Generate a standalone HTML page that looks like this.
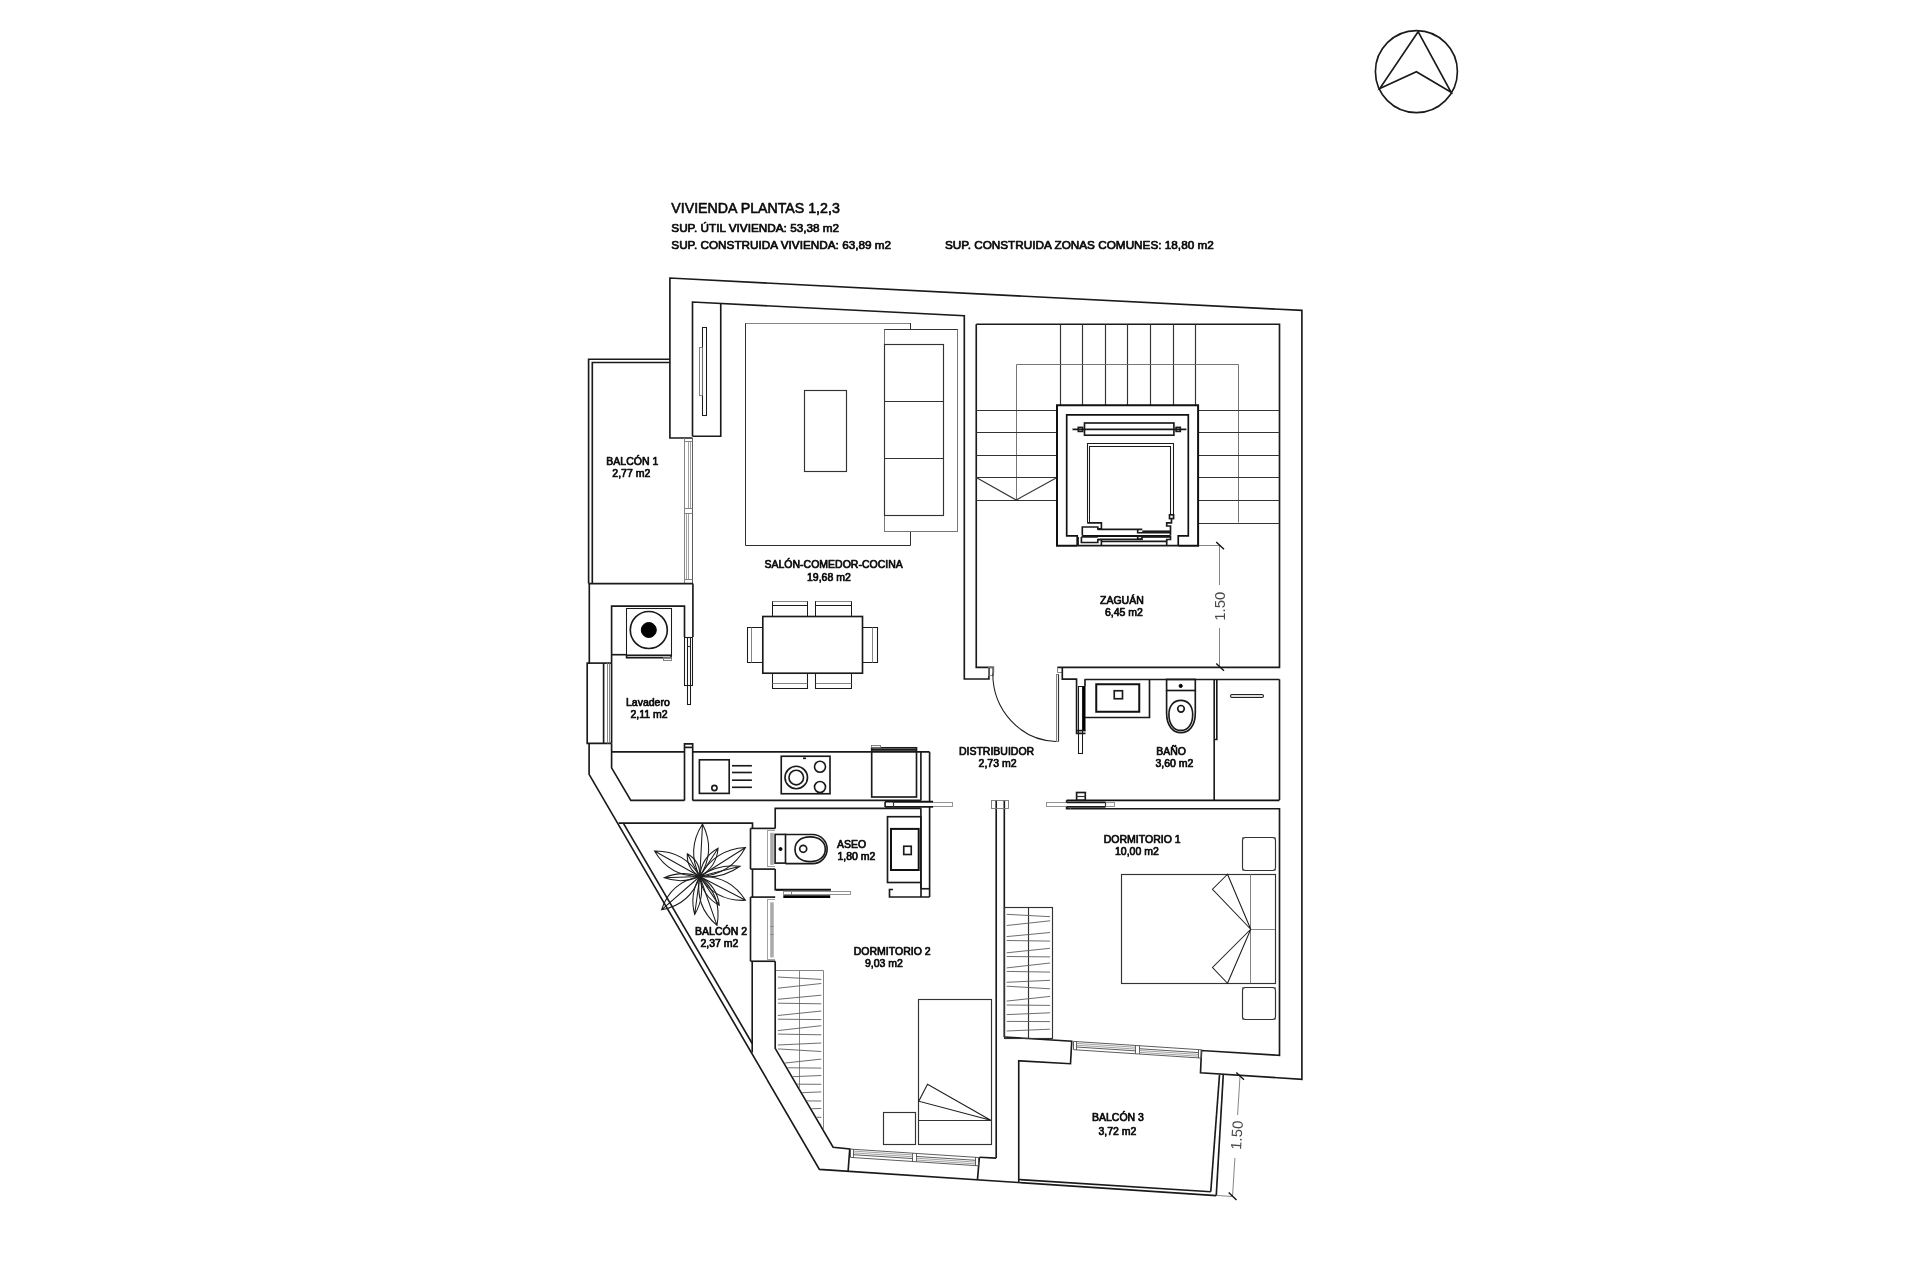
<!DOCTYPE html>
<html><head><meta charset="utf-8"><title>Plano vivienda</title>
<style>
html,body{margin:0;padding:0;background:#fff;}
body{width:1920px;height:1280px;overflow:hidden;}
svg{display:block;filter:grayscale(1);will-change:transform;}
.m{fill:none;stroke:#1a1a1a;stroke-width:1.65;}
.n{fill:none;stroke:#333;stroke-width:1.15;}
.k{fill:none;stroke:#111;stroke-width:2.0;}
.nw{fill:#fff;stroke:#2a2a2a;stroke-width:1.0;}
.wf{fill:none;stroke:#4a4a4a;stroke-width:0.9;}
.rg{fill:none;stroke:#2e2e2e;stroke-width:1;}
.sw{fill:#fff;stroke:#777;stroke-width:1;}
.hr{fill:none;stroke:#666;stroke-width:0.9;}
.ch{fill:none;stroke:#555;stroke-width:1;}
.hg{fill:none;stroke:#5e5e5e;stroke-width:0.9;}
.sh{fill:#ddd;stroke:#222;stroke-width:1.1;}
.pl{fill:none;stroke:#1c1c1c;stroke-width:1.05;}
.k2{fill:none;stroke:#111;stroke-width:1.7;}
.kk{fill:none;stroke:#000;stroke-width:2.6;}
.f{fill:#000;stroke:#000;stroke-width:1;}
.g{fill:none;stroke:#777;stroke-width:0.9;}
.gw{fill:#fff;stroke:#888;stroke-width:0.9;}
.gl{fill:none;stroke:#8a8a8a;stroke-width:0.8;}
.gf{fill:#aaa;stroke:none;}
.gk{fill:none;stroke:#555;stroke-width:2;}
.d{fill:none;stroke:#666;stroke-width:0.8;}
.dk{fill:none;stroke:#111;stroke-width:1.4;}
text{font-family:"Liberation Sans",sans-serif;}
.t{font-size:10.5px;fill:#0a0a0a;stroke:#0a0a0a;stroke-width:0.7;stroke-linejoin:round;}
.big{font-size:14.2px;stroke-width:0.6;}
.hd{font-size:11.75px;stroke-width:0.7;}
.dim{font-size:14.9px;fill:#4a4a4a;}
</style></head><body>
<svg width="1920" height="1280" viewBox="0 0 1920 1280">
<circle class="m" cx="1416.40" cy="71.60" r="41.00"/>
<polygon class="m" points="1418.10,31.70 1379.80,88.60 1416.40,71.70 1451.10,92.30"/>
<text class="t big" x="671.30" y="213.40" text-anchor="start" >VIVIENDA PLANTAS 1,2,3</text>
<text class="t hd" x="671.30" y="231.80" text-anchor="start" >SUP. ÚTIL VIVIENDA: 53,38 m2</text>
<text class="t hd" x="671.30" y="249.40" text-anchor="start" >SUP. CONSTRUIDA VIVIENDA: 63,89 m2</text>
<text class="t hd" x="945.00" y="249.40" text-anchor="start" >SUP. CONSTRUIDA ZONAS COMUNES: 18,80 m2</text>
<polyline class="m" points="692.50,438.00 669.90,438.00 669.90,278.05 1301.90,310.40 1301.90,1079.25 1200.50,1072.75 1201.50,1050.50 1279.50,1055.30 1279.50,808.75 1070.60,808.75"/>
<polyline class="m" points="692.50,436.25 692.50,302.00 964.30,315.70 964.30,679.00 988.90,679.00 988.90,667.30"/>
<polyline class="m" points="976.25,324.25 976.25,667.30 993.30,667.30 993.30,672.50"/>
<rect class="g" x="988.50" y="667.50" width="5.00" height="8.00" />
<polyline class="m" points="720.75,303.42 720.75,436.25 692.50,436.25"/>
<rect class="pl" x="702.50" y="327.50" width="4.00" height="88.00" />
<rect class="g" x="699.50" y="347.50" width="3.00" height="48.00" />
<line class="g" x1="684.50" y1="438.00" x2="684.50" y2="583.60"/>
<line class="wf" x1="692.50" y1="438.00" x2="692.50" y2="583.60"/>
<line class="gl" x1="688.50" y1="441.80" x2="688.50" y2="508.60"/>
<line class="gl" x1="690.50" y1="441.80" x2="690.50" y2="508.60"/>
<line class="gl" x1="686.50" y1="513.50" x2="686.50" y2="579.60"/>
<line class="gl" x1="688.50" y1="513.50" x2="688.50" y2="579.60"/>
<line class="g" x1="684.60" y1="441.50" x2="692.60" y2="441.50"/>
<line class="g" x1="684.60" y1="508.50" x2="692.60" y2="508.50"/>
<line class="g" x1="684.60" y1="513.50" x2="692.60" y2="513.50"/>
<line class="g" x1="684.60" y1="579.50" x2="692.60" y2="579.50"/>
<polyline class="m" points="669.90,359.25 588.60,359.25 588.60,583.60"/>
<polyline class="m" points="669.90,362.50 592.30,362.50 592.30,583.60"/>
<line class="m" x1="588.60" y1="583.60" x2="692.90" y2="583.60"/>
<polyline class="m" points="589.30,583.60 589.30,663.10 587.20,663.10 587.20,743.40 611.60,743.40"/>
<polyline class="m" points="589.10,743.40 589.10,774.30 819.40,1169.40 1216.25,1195.60"/>
<line class="m" x1="692.90" y1="583.60" x2="692.90" y2="637.00"/>
<polyline class="m" points="611.60,663.10 611.60,606.10 684.50,606.10 684.50,637.00"/>
<line class="m" x1="589.30" y1="663.10" x2="611.60" y2="663.10"/>
<line class="m" x1="603.60" y1="663.10" x2="603.60" y2="743.40"/>
<line class="g" x1="607.50" y1="663.10" x2="607.50" y2="743.40"/>
<line class="g" x1="609.50" y1="663.10" x2="609.50" y2="743.40"/>
<line class="m" x1="611.60" y1="663.10" x2="611.60" y2="743.40"/>
<rect class="pl" x="684.50" y="637.50" width="8.00" height="48.00" />
<rect class="pl" x="687.50" y="637.50" width="3.00" height="67.00" />
<line class="n" x1="687.00" y1="646.50" x2="690.50" y2="646.50"/>
<rect class="pl" x="626.50" y="608.50" width="45.00" height="47.00" />
<circle class="m" cx="648.80" cy="630.00" r="18.50"/>
<circle class="f" cx="648.80" cy="630.00" r="7.50"/>
<rect class="m" x="626.60" y="655.30" width="44.50" height="2.40" />
<rect class="g" x="663.50" y="657.50" width="8.00" height="3.00" />
<line class="m" x1="611.60" y1="654.70" x2="626.60" y2="654.70"/>
<polyline class="m" points="611.60,743.40 611.60,767.80 630.80,800.40 684.50,800.40"/>
<line class="m" x1="611.60" y1="751.90" x2="684.50" y2="751.90"/>
<line class="m" x1="692.70" y1="751.90" x2="929.60" y2="751.90"/>
<polyline class="m" points="684.50,800.40 684.50,743.90 692.70,743.90 692.70,800.40"/>
<line class="m" x1="684.50" y1="747.40" x2="692.70" y2="747.40"/>
<line class="m" x1="692.70" y1="800.40" x2="920.90" y2="800.40"/>
<rect class="m" x="699.40" y="759.80" width="29.80" height="33.60" />
<circle class="m" cx="714.40" cy="788.00" r="2.60"/>
<line class="m" x1="732.00" y1="765.75" x2="751.90" y2="765.75"/>
<line class="m" x1="732.00" y1="772.50" x2="751.90" y2="772.50"/>
<line class="m" x1="732.00" y1="780.20" x2="751.90" y2="780.20"/>
<line class="m" x1="732.00" y1="787.30" x2="751.90" y2="787.30"/>
<rect class="m" x="781.25" y="756.25" width="48.75" height="37.50" />
<circle class="m" cx="796.25" cy="777.50" r="11.25"/>
<circle class="m" cx="796.25" cy="777.50" r="7.30"/>
<circle class="m" cx="820.00" cy="766.75" r="5.50"/>
<circle class="m" cx="820.00" cy="787.00" r="5.50"/>
<line class="m" x1="803.00" y1="758.30" x2="806.00" y2="758.30"/>
<rect class="m" x="871.70" y="747.80" width="44.80" height="49.20" />
<rect class="g" x="871.50" y="745.50" width="9.00" height="2.00" />
<line class="m" x1="871.70" y1="749.50" x2="916.50" y2="749.50"/>
<line class="m" x1="871.70" y1="751.00" x2="916.50" y2="751.00"/>
<line class="m" x1="920.90" y1="751.90" x2="920.90" y2="800.40"/>
<line class="m" x1="929.60" y1="751.90" x2="929.60" y2="897.00"/>
<line class="m" x1="920.90" y1="808.30" x2="920.90" y2="888.75"/>
<rect class="gw" x="893.50" y="802.50" width="59.00" height="4.00" />
<line class="k2" x1="885.10" y1="801.70" x2="933.10" y2="801.70"/>
<line class="m" x1="885.10" y1="806.90" x2="933.10" y2="806.90"/>
<line class="m" x1="885.10" y1="801.70" x2="885.10" y2="806.90"/>
<line class="n" x1="893.50" y1="801.70" x2="893.50" y2="806.90"/>
<polyline class="m" points="775.20,828.40 775.20,808.30 920.90,808.30"/>
<polyline class="m" points="775.20,869.10 775.20,889.70 783.25,889.70"/>
<rect class="m" x="887.50" y="816.70" width="33.40" height="65.80" />
<rect class="k" x="891.00" y="828.90" width="27.70" height="41.10" />
<rect class="m" x="903.75" y="846.25" width="7.50" height="8.25" />
<polyline class="m" points="920.90,888.75 929.60,888.75"/>
<polyline class="m" points="929.60,897.00 889.50,897.00 889.50,889.50 893.00,889.50"/>
<line class="m" x1="921.00" y1="882.50" x2="921.00" y2="897.00"/>
<line class="k" x1="775.50" y1="889.80" x2="830.90" y2="889.80"/>
<rect class="gw" x="783.50" y="891.50" width="67.00" height="3.00" />
<line class="g" x1="791.50" y1="891.80" x2="791.50" y2="894.90"/>
<line class="kk" x1="783.30" y1="896.60" x2="830.20" y2="896.60"/>
<rect class="m" x="775.10" y="834.40" width="10.40" height="28.70" />
<circle class="f" cx="780.50" cy="849.00" r="1.50"/>
<path class="m" d="M785.5,834.5 L812.6,834.5 A14.55,14.55 0 0 1 812.6,863.6 L785.5,863.6"/>
<path class="m" d="M810.2,836.9 C800.5,836.9 795,842 795,849.2 C795,856.5 800.5,861.6 810.2,861.6 C819.5,861.6 825.3,856.5 825.3,849.2 C825.3,842 819.5,836.9 810.2,836.9 Z"/>
<circle class="m" cx="803.20" cy="848.80" r="3.50"/>
<polyline class="m" points="618.60,823.10 752.50,823.10 752.50,828.40"/>
<line class="m" x1="750.50" y1="828.40" x2="775.20" y2="828.40"/>
<line class="m" x1="750.50" y1="828.40" x2="750.50" y2="869.10"/>
<line class="m" x1="750.50" y1="869.10" x2="775.20" y2="869.10"/>
<line class="m" x1="752.50" y1="869.10" x2="752.50" y2="897.10"/>
<line class="m" x1="750.50" y1="897.10" x2="775.20" y2="897.10"/>
<line class="m" x1="750.50" y1="897.10" x2="750.50" y2="961.25"/>
<line class="m" x1="750.50" y1="961.25" x2="775.20" y2="961.25"/>
<line class="m" x1="752.20" y1="961.25" x2="752.20" y2="1052.50"/>
<polyline class="m" points="775.20,961.25 775.20,1048.30 833.10,1147.25 849.75,1149.00 848.10,1171.25"/>
<line class="m" x1="623.30" y1="823.10" x2="752.20" y2="1043.50"/>
<line class="gl" x1="767.50" y1="830.50" x2="767.50" y2="866.40"/>
<rect class="gf" x="770.20" y="832.80" width="3.55" height="32.00" />
<line class="gl" x1="767.10" y1="830.50" x2="775.00" y2="830.50"/>
<line class="gl" x1="767.10" y1="866.50" x2="775.00" y2="866.50"/>
<line class="gl" x1="767.50" y1="899.50" x2="767.50" y2="959.50"/>
<rect class="gf" x="770.20" y="902.30" width="3.55" height="55.20" />
<line class="gl" x1="767.10" y1="899.50" x2="775.00" y2="899.50"/>
<line class="gl" x1="767.10" y1="959.50" x2="775.00" y2="959.50"/>
<line class="gw" x1="770.20" y1="926.50" x2="773.75" y2="926.50"/>
<line class="gw" x1="770.20" y1="934.50" x2="773.75" y2="934.50"/>
<line class="m" x1="996.20" y1="800.30" x2="996.20" y2="1158.10"/>
<line class="m" x1="1004.30" y1="800.30" x2="1004.30" y2="1037.00"/>
<rect class="g" x="991.50" y="800.50" width="17.00" height="8.00" />
<polyline class="m" points="979.40,1157.25 996.20,1158.10"/>
<line class="m" x1="979.40" y1="1157.25" x2="977.50" y2="1179.40"/>
<polygon class="wf" points="850.50,1149.10 978.50,1157.50 978.50,1165.80 850.50,1157.40"/>
<line class="wf" x1="853.50" y1="1149.32" x2="853.50" y2="1157.62"/>
<line class="wf" x1="975.50" y1="1157.28" x2="975.50" y2="1165.58"/>
<line class="wf" x1="912.50" y1="1153.17" x2="912.50" y2="1161.47"/>
<line class="wf" x1="916.50" y1="1153.43" x2="916.50" y2="1161.73"/>
<line class="gl" x1="853.70" y1="1151.12" x2="912.45" y2="1154.97"/>
<line class="gl" x1="853.70" y1="1152.92" x2="912.45" y2="1156.77"/>
<line class="wf" x1="853.70" y1="1154.72" x2="912.45" y2="1158.57"/>
<line class="wf" x1="916.45" y1="1156.43" x2="975.20" y2="1160.28"/>
<line class="gl" x1="916.45" y1="1158.23" x2="975.20" y2="1162.08"/>
<line class="gl" x1="916.45" y1="1160.03" x2="975.20" y2="1163.88"/>
<polyline class="m" points="1004.30,1037.00 1071.75,1041.25 1070.50,1063.75 1018.75,1060.75 1018.75,1181.90"/>
<polygon class="wf" points="1073.50,1041.40 1201.50,1049.80 1201.50,1058.10 1073.50,1049.70"/>
<line class="wf" x1="1076.50" y1="1041.62" x2="1076.50" y2="1049.92"/>
<line class="wf" x1="1198.50" y1="1049.58" x2="1198.50" y2="1057.88"/>
<line class="wf" x1="1135.50" y1="1045.47" x2="1135.50" y2="1053.77"/>
<line class="wf" x1="1139.50" y1="1045.73" x2="1139.50" y2="1054.03"/>
<line class="gl" x1="1076.70" y1="1043.42" x2="1135.35" y2="1047.27"/>
<line class="gl" x1="1076.70" y1="1045.22" x2="1135.35" y2="1049.07"/>
<line class="wf" x1="1076.70" y1="1047.02" x2="1135.35" y2="1050.87"/>
<line class="wf" x1="1139.35" y1="1048.73" x2="1198.00" y2="1052.58"/>
<line class="gl" x1="1139.35" y1="1050.53" x2="1198.00" y2="1054.38"/>
<line class="gl" x1="1139.35" y1="1052.33" x2="1198.00" y2="1056.18"/>
<line class="m" x1="1018.75" y1="1179.50" x2="1210.75" y2="1191.75"/>
<line class="m" x1="1219.50" y1="1075.00" x2="1210.75" y2="1191.75"/>
<line class="m" x1="1223.25" y1="1075.00" x2="1216.25" y2="1195.60"/>
<line class="d" x1="1198.10" y1="545.50" x2="1219.70" y2="545.50"/>
<line class="d" x1="1219.50" y1="545.80" x2="1219.50" y2="585.00"/>
<line class="d" x1="1219.50" y1="628.00" x2="1219.50" y2="667.30"/>
<line class="dk" x1="1216.20" y1="542.00" x2="1224.00" y2="549.20"/>
<line class="dk" x1="1216.20" y1="663.60" x2="1224.00" y2="670.80"/>
<text class="dim" x="0.00" y="0.00" text-anchor="middle" transform="translate(1225,606.3) rotate(-90)">1.50</text>
<line class="d" x1="1240.00" y1="1076.25" x2="1237.60" y2="1115.00"/>
<line class="d" x1="1234.90" y1="1158.00" x2="1232.50" y2="1196.50"/>
<line class="d" x1="1216.25" y1="1195.40" x2="1232.50" y2="1196.50"/>
<line class="dk" x1="1236.30" y1="1072.50" x2="1244.00" y2="1079.80"/>
<line class="dk" x1="1228.70" y1="1192.50" x2="1236.50" y2="1200.00"/>
<text class="dim" x="0.00" y="0.00" text-anchor="middle" transform="translate(1242,1135.5) rotate(-86.4)">1.50</text>
<polyline class="m" points="976.25,324.25 1279.50,324.25 1279.50,667.30 1057.30,667.30"/>
<line class="n" x1="1060.50" y1="324.25" x2="1060.50" y2="405.00"/>
<line class="n" x1="1082.50" y1="324.25" x2="1082.50" y2="405.00"/>
<line class="n" x1="1105.50" y1="324.25" x2="1105.50" y2="405.00"/>
<line class="n" x1="1127.50" y1="324.25" x2="1127.50" y2="405.00"/>
<line class="n" x1="1150.50" y1="324.25" x2="1150.50" y2="405.00"/>
<line class="n" x1="1173.50" y1="324.25" x2="1173.50" y2="405.00"/>
<line class="n" x1="1195.50" y1="324.25" x2="1195.50" y2="405.00"/>
<polyline class="hr" points="1016.50,500.00 1016.50,364.50 1238.50,364.50 1238.50,522.50"/>
<line class="n" x1="976.25" y1="410.50" x2="1057.00" y2="410.50"/>
<line class="n" x1="976.25" y1="432.50" x2="1057.00" y2="432.50"/>
<line class="n" x1="976.25" y1="455.50" x2="1057.00" y2="455.50"/>
<line class="n" x1="976.25" y1="477.50" x2="1057.00" y2="477.50"/>
<line class="n" x1="976.25" y1="500.50" x2="1057.00" y2="500.50"/>
<polyline class="n" points="976.25,477.50 1016.25,500.00 1057.00,477.50"/>
<line class="n" x1="1198.10" y1="410.50" x2="1279.50" y2="410.50"/>
<line class="n" x1="1198.10" y1="432.50" x2="1279.50" y2="432.50"/>
<line class="n" x1="1198.10" y1="455.50" x2="1279.50" y2="455.50"/>
<line class="n" x1="1198.10" y1="477.50" x2="1279.50" y2="477.50"/>
<line class="n" x1="1198.10" y1="500.50" x2="1279.50" y2="500.50"/>
<line class="n" x1="1198.10" y1="523.50" x2="1279.50" y2="523.50"/>
<polyline class="k" points="1077.20,545.80 1057.00,545.80 1057.00,405.20 1198.10,405.20 1198.10,545.80 1178.25,545.80"/>
<line class="m" x1="1077.20" y1="545.60" x2="1178.25" y2="545.60"/>
<polyline class="k2" points="1077.20,545.80 1077.20,535.90 1066.70,535.90 1066.70,414.80 1188.30,414.80 1188.30,535.90 1178.25,535.90 1178.25,545.80"/>
<rect class="m" x="1084.50" y="423.00" width="89.40" height="12.20" />
<line class="m" x1="1072.50" y1="429.30" x2="1186.40" y2="429.30"/>
<rect class="m" x="1078.30" y="427.40" width="4.30" height="4.00" />
<rect class="m" x="1176.10" y="427.40" width="4.20" height="4.00" />
<polyline class="pl" points="1087.50,522.80 1087.50,443.50 1173.50,443.50 1173.50,514.80"/>
<polyline class="pl" points="1089.50,522.80 1089.50,446.50 1170.50,446.50 1170.50,514.80"/>
<rect class="m" x="1169.50" y="514.80" width="4.10" height="3.80" />
<polyline class="m" points="1087.30,522.80 1101.40,522.80 1101.40,528.90 1097.80,528.90 1097.80,527.00 1082.30,527.00 1082.30,535.50"/>
<line class="m" x1="1097.80" y1="529.40" x2="1142.30" y2="529.40"/>
<polyline class="m" points="1137.70,529.40 1137.70,532.70 1170.50,532.70"/>
<line class="m" x1="1142.30" y1="531.25" x2="1170.50" y2="531.25"/>
<polyline class="m" points="1171.50,518.60 1171.50,522.80 1166.70,522.80 1166.70,526.00 1170.50,526.00 1170.50,535.50"/>
<line class="k" x1="1082.30" y1="535.90" x2="1170.50" y2="535.90"/>
<polyline class="m" points="1078.10,536.90 1078.10,545.80"/>
<polyline class="m" points="1081.40,536.90 1081.40,542.50 1097.80,542.50 1097.80,539.70 1101.40,539.70 1101.40,545.80"/>
<line class="m" x1="1081.40" y1="536.90" x2="1097.80" y2="536.90"/>
<line class="m" x1="1097.80" y1="539.20" x2="1142.00" y2="539.20"/>
<rect class="m" x="1137.70" y="536.30" width="4.30" height="2.90" />
<line class="m" x1="1142.00" y1="537.00" x2="1170.50" y2="537.00"/>
<polyline class="m" points="1101.40,541.30 1166.70,541.30 1166.70,545.80"/>
<polyline class="m" points="1166.70,541.30 1166.70,539.50 1170.50,539.50 1170.50,536.00"/>
<path class="pl" d="M992.8,672.5 A64.6,68 0 0 0 1056,741.4"/>
<rect class="g" x="1056.50" y="674.50" width="2.00" height="67.00" />
<line class="n" x1="1058.50" y1="674.60" x2="1058.50" y2="741.40"/>
<polyline class="g" points="1057.50,667.30 1057.50,672.50 1062.30,672.50"/>
<polyline class="m" points="1062.30,667.30 1062.30,679.06 1076.56,679.06 1076.56,733.40 1085.50,733.40"/>
<line class="m" x1="1084.50" y1="679.50" x2="1279.50" y2="679.50"/>
<line class="m" x1="1085.00" y1="679.50" x2="1085.00" y2="686.00"/>
<line class="kk" x1="1084.20" y1="686.00" x2="1084.20" y2="731.00"/>
<rect class="pl" x="1078.50" y="686.50" width="4.00" height="67.00" />
<line class="m" x1="1076.56" y1="730.60" x2="1085.50" y2="730.60"/>
<polyline class="m" points="1085.00,717.50 1149.50,717.50 1149.50,679.50"/>
<rect class="k" x="1096.25" y="684.25" width="43.00" height="27.50" />
<rect class="m" x="1114.25" y="690.75" width="8.25" height="8.00" />
<rect class="m" x="1166.60" y="679.40" width="28.70" height="11.10" />
<circle class="f" cx="1180.70" cy="685.90" r="1.60"/>
<path class="m" d="M1166.6,690.5 L1166.6,713 C1166.6,726 1173,732.6 1180.9,732.6 C1189,732.6 1195.3,726 1195.3,713 L1195.3,690.5"/>
<path class="m" d="M1180.8,700.3 C1173.5,700.3 1168.9,706 1168.9,714.5 C1168.9,724.5 1174,730.4 1180.8,730.4 C1187.8,730.4 1192.7,724.5 1192.7,714.5 C1192.7,706 1188.2,700.3 1180.8,700.3 Z"/>
<circle class="m" cx="1181.00" cy="708.80" r="3.30"/>
<line class="m" x1="1214.20" y1="679.40" x2="1214.20" y2="800.00"/>
<line class="m" x1="1279.50" y1="679.40" x2="1279.50" y2="800.00"/>
<polyline class="m" points="1216.80,679.40 1216.80,739.50 1214.20,739.50"/>
<rect class="sh" x="1230.50" y="694.50" width="33.00" height="3.00" rx="1.5"/>
<line class="k2" x1="1066.60" y1="800.30" x2="1279.50" y2="800.30"/>
<rect class="m" x="1076.60" y="792.50" width="8.70" height="7.80" />
<line class="n" x1="1076.60" y1="796.50" x2="1085.30" y2="796.50"/>
<rect class="gw" x="1046.50" y="802.50" width="68.00" height="4.00" />
<line class="m" x1="1066.60" y1="802.40" x2="1105.60" y2="802.40"/>
<line class="m" x1="1066.60" y1="806.90" x2="1105.60" y2="806.90"/>
<line class="n" x1="1105.50" y1="802.80" x2="1105.50" y2="806.60"/>
<line class="m" x1="1066.60" y1="800.30" x2="1066.60" y2="802.40"/>
<polyline class="m" points="1066.60,806.90 1066.60,808.75 1070.60,808.75"/>
<rect class="n" x="1121.50" y="874.50" width="154.00" height="109.00" />
<line class="g" x1="1250.50" y1="874.25" x2="1250.50" y2="983.25"/>
<line class="g" x1="1250.75" y1="929.50" x2="1275.00" y2="929.50"/>
<polygon class="pl" points="1227.50,874.25 1212.50,889.25 1250.75,929.25"/>
<polygon class="pl" points="1227.50,983.25 1212.50,967.50 1250.75,929.25"/>
<rect class="gl" x="1242.50" y="837.50" width="33.00" height="33.00" />
<rect class="n" x="1242.50" y="837.50" width="33.00" height="33.00" rx="3.2"/>
<rect class="gl" x="1242.50" y="987.50" width="33.00" height="32.00" />
<rect class="n" x="1242.50" y="987.50" width="33.00" height="32.00" rx="3.2"/>
<rect class="n" x="1004.50" y="907.50" width="48.00" height="131.00" />
<line class="n" x1="1028.50" y1="907.50" x2="1028.50" y2="1038.75"/>
<line class="hg" x1="1006.70" y1="914.30" x2="1050.10" y2="916.70"/>
<line class="hg" x1="1006.70" y1="925.50" x2="1050.10" y2="920.80"/>
<line class="hg" x1="1006.70" y1="936.60" x2="1050.10" y2="932.50"/>
<line class="hg" x1="1006.70" y1="940.50" x2="1050.10" y2="941.10"/>
<line class="hg" x1="1006.70" y1="952.80" x2="1050.10" y2="948.30"/>
<line class="hg" x1="1006.70" y1="956.50" x2="1050.10" y2="956.90"/>
<line class="hg" x1="1006.70" y1="967.90" x2="1050.10" y2="963.00"/>
<line class="hg" x1="1006.70" y1="971.40" x2="1050.10" y2="972.10"/>
<line class="hg" x1="1006.70" y1="982.30" x2="1050.10" y2="980.30"/>
<line class="hg" x1="1006.70" y1="986.20" x2="1050.10" y2="988.80"/>
<line class="hg" x1="1006.70" y1="1001.10" x2="1050.10" y2="996.40"/>
<line class="hg" x1="1006.70" y1="1005.00" x2="1050.10" y2="1005.40"/>
<line class="hg" x1="1006.70" y1="1014.60" x2="1050.10" y2="1012.80"/>
<line class="hg" x1="1006.70" y1="1021.40" x2="1050.10" y2="1021.60"/>
<line class="hg" x1="1006.70" y1="1031.00" x2="1050.10" y2="1029.20"/>
<rect class="n" x="918.50" y="999.50" width="73.00" height="145.00" />
<line class="n" x1="918.60" y1="1120.50" x2="991.60" y2="1120.50"/>
<polygon class="pl" points="927.50,1084.25 918.75,1101.25 990.75,1120.20"/>
<rect class="n" x="883.50" y="1112.50" width="32.00" height="32.00" />
<clipPath id="cw"><polygon points="775.2,961 826,961 826,1133.6 776.2,1048.3"/></clipPath>
<g clip-path="url(#cw)">
<polyline class="g" points="776.00,970.50 823.50,970.50 823.50,1140.00"/>
<line class="g" x1="799.50" y1="970.50" x2="799.50" y2="1140.00"/>
<line class="hg" x1="777.90" y1="977.00" x2="821.30" y2="979.40"/>
<line class="hg" x1="777.90" y1="988.20" x2="821.30" y2="983.50"/>
<line class="hg" x1="777.90" y1="999.30" x2="821.30" y2="995.20"/>
<line class="hg" x1="777.90" y1="1003.20" x2="821.30" y2="1003.80"/>
<line class="hg" x1="777.90" y1="1015.50" x2="821.30" y2="1011.00"/>
<line class="hg" x1="777.90" y1="1019.20" x2="821.30" y2="1019.60"/>
<line class="hg" x1="777.90" y1="1030.60" x2="821.30" y2="1025.70"/>
<line class="hg" x1="777.90" y1="1034.10" x2="821.30" y2="1034.80"/>
<line class="hg" x1="777.90" y1="1045.00" x2="821.30" y2="1043.00"/>
<line class="hg" x1="777.90" y1="1048.90" x2="821.30" y2="1051.50"/>
<line class="hg" x1="777.90" y1="1063.80" x2="821.30" y2="1059.10"/>
<line class="hg" x1="777.90" y1="1067.70" x2="821.30" y2="1068.10"/>
<line class="hg" x1="777.90" y1="1077.30" x2="821.30" y2="1075.50"/>
<line class="hg" x1="777.90" y1="1084.10" x2="821.30" y2="1084.30"/>
<line class="hg" x1="777.90" y1="1093.70" x2="821.30" y2="1091.90"/>
<line class="hg" x1="777.90" y1="1100.70" x2="821.30" y2="1101.00"/>
<line class="hg" x1="777.90" y1="1109.50" x2="821.30" y2="1108.50"/>
<line class="hg" x1="777.90" y1="1117.00" x2="821.30" y2="1117.30"/>
<line class="hg" x1="777.90" y1="1125.20" x2="821.30" y2="1124.20"/>
</g>
<polyline class="rg" points="745.50,323.00 745.50,545.50 910.50,545.50 910.50,531.30"/>
<line class="g" x1="745.75" y1="323.50" x2="910.80" y2="323.50"/>
<line class="rg" x1="910.50" y1="323.00" x2="910.50" y2="329.30"/>
<rect class="sw" x="884.50" y="329.50" width="73.00" height="202.00" />
<line class="n" x1="884.50" y1="329.50" x2="957.50" y2="329.50"/>
<rect class="n" x="884.50" y="344.50" width="59.00" height="171.00" />
<line class="n" x1="884.50" y1="401.50" x2="943.25" y2="401.50"/>
<line class="n" x1="884.50" y1="458.50" x2="943.25" y2="458.50"/>
<rect class="n" x="804.50" y="390.50" width="42.00" height="81.00" />
<rect class="m" x="762.80" y="616.50" width="99.70" height="56.70" />
<line class="pl" x1="772.50" y1="616.50" x2="772.50" y2="601.00"/>
<line class="pl" x1="807.50" y1="616.50" x2="807.50" y2="601.00"/>
<line class="g" x1="772.40" y1="601.50" x2="807.50" y2="601.50"/>
<line class="pl" x1="772.40" y1="605.50" x2="807.50" y2="605.50"/>
<polyline class="pl" points="772.50,673.20 772.50,688.50 807.50,688.50 807.50,673.20"/>
<line class="g" x1="772.40" y1="683.50" x2="807.50" y2="683.50"/>
<line class="pl" x1="815.50" y1="616.50" x2="815.50" y2="601.00"/>
<line class="pl" x1="851.50" y1="616.50" x2="851.50" y2="601.00"/>
<line class="g" x1="815.70" y1="601.50" x2="851.50" y2="601.50"/>
<line class="pl" x1="815.70" y1="605.50" x2="851.50" y2="605.50"/>
<polyline class="pl" points="815.50,673.20 815.50,688.50 851.50,688.50 851.50,673.20"/>
<line class="g" x1="815.70" y1="683.50" x2="851.50" y2="683.50"/>
<polyline class="pl" points="762.80,627.50 747.50,627.50 747.50,662.50 762.80,662.50"/>
<line class="g" x1="751.50" y1="627.40" x2="751.50" y2="662.70"/>
<polyline class="pl" points="862.50,627.50 877.50,627.50 877.50,662.50 862.50,662.50"/>
<line class="g" x1="872.50" y1="627.40" x2="872.50" y2="662.70"/>
<path class="pl" d="M699.8,876.5 Q716.1,851.0 702.5,824.0 Q686.2,849.5 699.8,876.5 M699.8,876.5 L702.5,824.0"/>
<path class="pl" d="M699.8,876.5 Q716.5,867.3 718.1,848.3 Q701.4,857.5 699.8,876.5 M699.8,876.5 L718.1,848.3"/>
<path class="pl" d="M699.8,876.5 Q730.7,874.7 745.5,847.5 Q714.6,849.3 699.8,876.5 M699.8,876.5 L745.5,847.5"/>
<path class="pl" d="M699.8,876.5 Q721.9,879.1 740.0,866.2 Q717.9,863.6 699.8,876.5 M699.8,876.5 L740.0,866.2"/>
<path class="pl" d="M699.8,876.5 Q715.7,901.7 745.5,900.3 Q729.6,875.1 699.8,876.5 M699.8,876.5 L745.5,900.3"/>
<path class="pl" d="M699.8,876.5 Q702.1,896.0 719.3,905.4 Q717.0,885.9 699.8,876.5 M699.8,876.5 L719.3,905.4"/>
<path class="pl" d="M699.8,876.5 Q694.2,905.9 717.0,925.4 Q722.6,896.0 699.8,876.5 M699.8,876.5 L717.0,925.4"/>
<path class="pl" d="M699.8,876.5 Q689.3,894.4 694.7,914.5 Q705.2,896.6 699.8,876.5 M699.8,876.5 L694.7,914.5"/>
<path class="pl" d="M699.8,876.5 Q670.8,881.8 661.5,909.8 Q690.5,904.5 699.8,876.5 M699.8,876.5 L661.5,909.8"/>
<path class="pl" d="M699.8,876.5 Q681.7,870.2 664.2,877.8 Q682.3,884.1 699.8,876.5 M699.8,876.5 L664.2,877.8"/>
<path class="pl" d="M699.8,876.5 Q684.5,850.7 654.5,851.0 Q669.8,876.8 699.8,876.5 M699.8,876.5 L654.5,851.0"/>
<path class="pl" d="M699.8,876.5 Q700.6,861.3 687.3,853.8 Q686.5,869.0 699.8,876.5 M699.8,876.5 L687.3,853.8"/>
<text class="t" x="606.30" y="465.00" text-anchor="start" >BALCÓN 1</text>
<text class="t" x="612.30" y="477.00" text-anchor="start" >2,77 m2</text>
<text class="t" x="764.50" y="568.25" text-anchor="start" >SALÓN-COMEDOR-COCINA</text>
<text class="t" x="807.00" y="580.50" text-anchor="start" >19,68 m2</text>
<text class="t" x="626.00" y="705.75" text-anchor="start" >Lavadero</text>
<text class="t" x="630.50" y="718.25" text-anchor="start" >2,11 m2</text>
<text class="t" x="958.90" y="754.50" text-anchor="start" >DISTRIBUIDOR</text>
<text class="t" x="978.60" y="766.70" text-anchor="start" >2,73 m2</text>
<text class="t" x="837.00" y="847.50" text-anchor="start" >ASEO</text>
<text class="t" x="837.50" y="859.50" text-anchor="start" >1,80 m2</text>
<text class="t" x="695.10" y="934.80" text-anchor="start" >BALCÓN 2</text>
<text class="t" x="700.50" y="946.50" text-anchor="start" >2,37 m2</text>
<text class="t" x="853.75" y="955.00" text-anchor="start" >DORMITORIO 2</text>
<text class="t" x="865.00" y="966.75" text-anchor="start" >9,03 m2</text>
<text class="t" x="1100.00" y="603.75" text-anchor="start" >ZAGUÁN</text>
<text class="t" x="1105.00" y="615.75" text-anchor="start" >6,45 m2</text>
<text class="t" x="1156.25" y="754.50" text-anchor="start" >BAÑO</text>
<text class="t" x="1155.50" y="766.75" text-anchor="start" >3,60 m2</text>
<text class="t" x="1103.75" y="842.75" text-anchor="start" >DORMITORIO 1</text>
<text class="t" x="1115.00" y="854.75" text-anchor="start" >10,00 m2</text>
<text class="t" x="1092.00" y="1121.25" text-anchor="start" >BALCÓN 3</text>
<text class="t" x="1098.50" y="1135.00" text-anchor="start" >3,72 m2</text>
</svg>
</body></html>
